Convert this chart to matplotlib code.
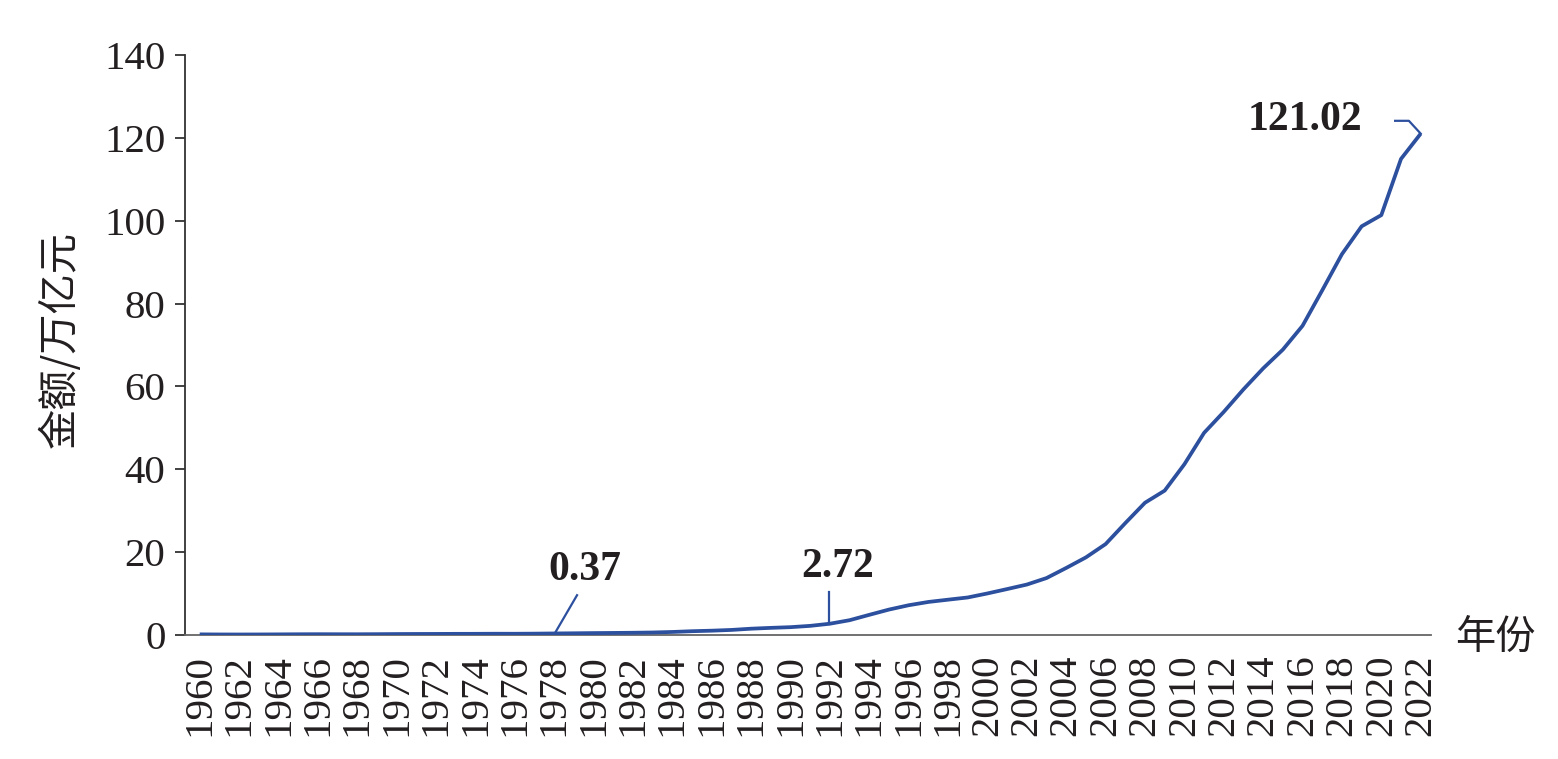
import matplotlib.pyplot as plt

plt.rcParams['font.family'] = ['Liberation Serif', 'Noto Sans CJK SC']

years = list(range(1960, 2023))
gdp = [0.147, 0.123, 0.116, 0.125, 0.146, 0.172, 0.187, 0.178, 0.173, 0.195,
       0.226, 0.244, 0.253, 0.273, 0.280, 0.300, 0.294, 0.322, 0.368, 0.410,
       0.459, 0.494, 0.537, 0.602, 0.728, 0.910, 1.038, 1.218, 1.518, 1.718,
       1.887, 2.201, 2.720, 3.567, 4.864, 6.134, 7.181, 7.972, 8.520, 9.056,
       10.028, 11.086, 12.172, 13.742, 16.184, 18.732, 21.944, 27.009, 31.925, 34.852,
       41.212, 48.794, 53.858, 59.296, 64.356, 68.886, 74.640, 83.204, 91.928, 98.652,
       101.357, 114.924, 121.02]
tick_years = years[::2]
labels = {1978: '0.37', 1992: '2.72', 2022: '121.02'}

blue = '#2c4f9e'
ink = '#231f20'

fig = plt.figure(figsize=(15.58, 7.59), dpi=100)
ax = fig.add_axes([0.1187, 0.1634, 0.7995, 0.7641])

ax.plot(years, gdp, color=blue, lw=2.7, solid_capstyle='butt', zorder=3)

ax.set_xlim(1959.25, 2022.5)
ax.set_ylim(0, 140)
ax.set_yticks(range(0, 141, 20))
ax.set_xticks(tick_years)
ax.set_xticklabels([str(y) for y in tick_years], rotation=90, fontsize=29.5, color=ink)
ax.tick_params(axis='x', length=0, pad=14)
ax.tick_params(axis='y', direction='out', length=7, width=1.3, color='#333333',
               labelsize=29.5, labelcolor=ink, pad=7)

for s in ['top', 'right']:
    ax.spines[s].set_visible(False)
ax.spines['left'].set_color('#333333')
ax.spines['left'].set_linewidth(1.3)
ax.spines['bottom'].set_color('#666666')
ax.spines['bottom'].set_linewidth(1.3)

# leader lines and labels
y78 = gdp[years.index(1978)]
ax.plot([1978.04, 1979.16], [y78 + 0.1, 9.6], color=blue, lw=1.6)
ax.text(1979.55, 15.7, labels[1978], fontsize=30, fontweight='bold',
        color=ink, ha='center', va='center')

y92 = gdp[years.index(1992)]
ax.plot([1991.96, 1991.96], [y92, 10.4], color=blue, lw=1.6)
ax.text(1992.4, 16.4, labels[1992], fontsize=30, fontweight='bold',
        color=ink, ha='center', va='center')

y22 = gdp[-1]
ax.plot([2020.7, 2021.4, 2022], [y22 + 3.1, y22 + 3.1, y22], color=blue, lw=1.6)
ax.text(2019.05, y22 + 3.3, labels[2022], fontsize=30, fontweight='bold',
        color=ink, ha='right', va='center')

fig.text(60 / 1558, 1 - 340 / 759, '金额/万亿元', rotation=90, fontsize=29,
         color=ink, ha='center', va='center', family=['Noto Sans CJK SC'])
fig.text(1495 / 1558, 1 - 637 / 759, '年份', fontsize=29, color=ink,
         ha='center', va='center', family=['Noto Sans CJK SC'])

fig.savefig('out.png', dpi=100)
